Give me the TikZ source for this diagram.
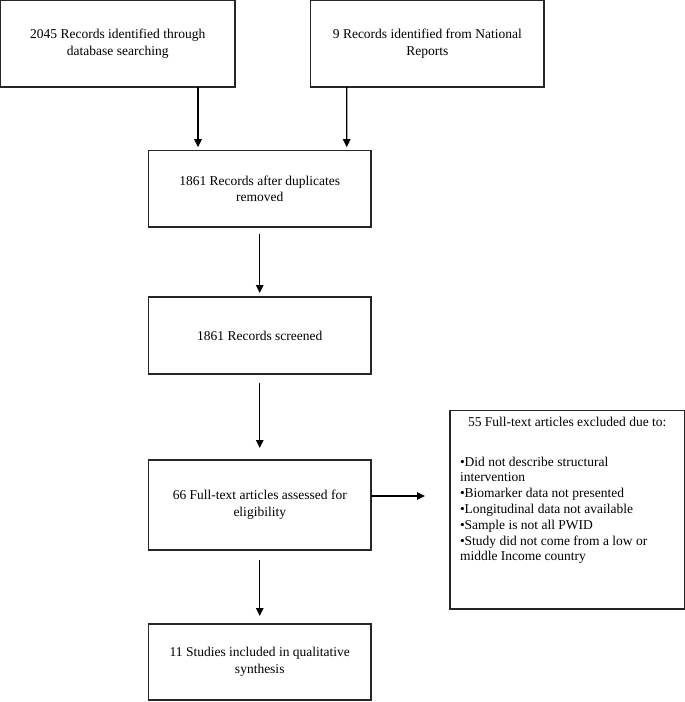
\documentclass[tikz,border=0pt]{standalone}
\usepackage{fontspec}
\setmainfont{Liberation Serif}
\usetikzlibrary{arrows.meta}
\begin{document}
\begin{tikzpicture}[x=1pt,y=-1pt,
  box/.style={draw=black!85,line width=1.1pt,inner sep=0pt,outer sep=0pt,align=center,
    font=\fontsize{13.5}{16.8}\selectfont},
  arr/.style={draw=black,line width=1.3pt,-{Triangle[length=8pt,width=7.5pt]}}]
\useasboundingbox (0,0) rectangle (685,702);
\node[box,minimum width=234.5pt,minimum height=86.5pt] (A) at (117.75,43.75)
  {2045 Records identified through\\database searching};
\node[box,minimum width=233.3pt,minimum height=86.5pt] (B) at (427.35,43.75)
  {9 Records identified from National\\Reports};
\node[box,minimum width=222.5pt,minimum height=76.3pt] (C) at (259.75,188.85)
  {1861 Records after duplicates\\removed};
\node[box,minimum width=222.5pt,minimum height=77pt] (D) at (259.75,335.5)
  {1861 Records screened};
\node[box,minimum width=222.5pt,minimum height=90pt] (E) at (259.75,505)
  {66 Full-text articles assessed for\\eligibility};
\node[box,minimum width=222.5pt,minimum height=76pt] (G) at (259.75,662)
  {11 Studies included in qualitative\\synthesis};
\node[box,inner xsep=10pt] (F) at (567.25,509.85)
  {\fontsize{13.5}{15.8}\selectfont\parbox[c][198.3pt][t]{214.5pt}{\vspace*{6.5pt}\centering
   55 Full-text articles excluded due to:\par\vspace{23.7pt}\raggedright
   \textbullet Did not describe structural\\
   intervention\\
   \textbullet Biomarker data not presented\\
   \textbullet Longitudinal data not available\\
   \textbullet Sample is not all PWID\\
   \textbullet Study did not come from a low or\\
   middle Income country}};
\draw[arr,shorten >=3.5pt] ([xshift=80.25pt]A.south) -- ([xshift=-61.75pt]C.north);
\draw[arr,shorten >=3.5pt] ([xshift=-80.65pt]B.south) -- ([xshift=86.95pt]C.north);
\draw[arr,shorten <=7pt,shorten >=4pt] (C.south) -- (D.north);
\draw[arr,shorten <=8.5pt,shorten >=12pt] (D.south) -- (E.north);
\draw[arr,shorten <=10pt,shorten >=8pt] (E.south) -- (G.north);
\draw[arr,shorten >=25pt] ([yshift=9pt]E.east) -- ([yshift=9pt]E.east -| F.west);
\end{tikzpicture}
\end{document}
